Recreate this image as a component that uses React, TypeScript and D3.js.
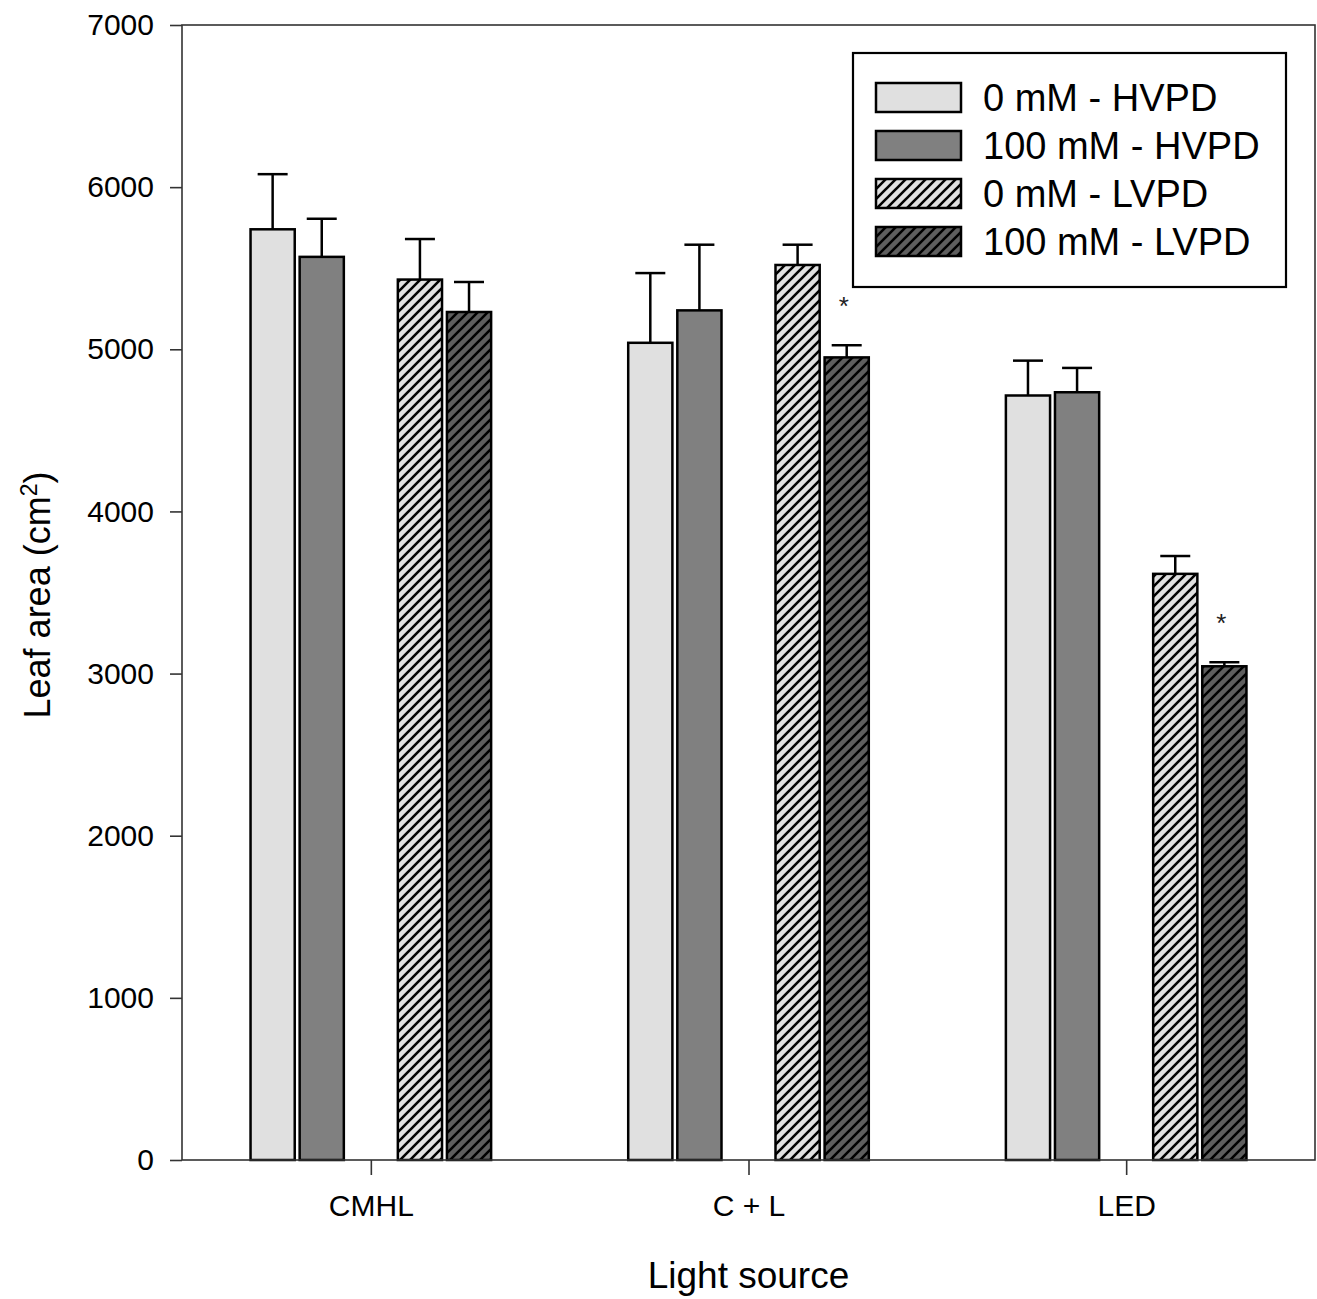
import React, { useEffect, useRef } from 'react';
import * as d3 from 'd3';

// Dimensiones generales
const W = 1317;
const H = 1299;
const margin = { top: 25, right: 2, bottom: 139, left: 182 };
const FONT = "'Liberation Sans', Arial, sans-serif";

// Datos
const lightSources = ['CMHL', 'C + L', 'LED'];
const treatments = ['0 mM - HVPD', '100 mM - HVPD', '0 mM - LVPD', '100 mM - LVPD'];
const hvpd0Mean = [5740, 5040, 4715];
const hvpd0Err = [340, 430, 215];
const hvpd100Mean = [5570, 5240, 4735];
const hvpd100Err = [235, 405, 150];
const lvpd0Mean = [5430, 5520, 3615];
const lvpd0Err = [250, 125, 110];
const lvpd100Mean = [5230, 4950, 3045];
const lvpd100Err = [185, 75, 25];
const lvpd100Signif = [false, true, true];
const yTicks = [0, 1000, 2000, 3000, 4000, 5000, 6000, 7000];

const series = [
  { name: treatments[0], mean: hvpd0Mean, err: hvpd0Err, signif: [false, false, false], fill: '#e0e0e0', offset: -2 },
  { name: treatments[1], mean: hvpd100Mean, err: hvpd100Err, signif: [false, false, false], fill: '#808080', offset: -1 },
  { name: treatments[2], mean: lvpd0Mean, err: lvpd0Err, signif: [false, false, false], fill: 'url(#hatchLight)', offset: 1 },
  { name: treatments[3], mean: lvpd100Mean, err: lvpd100Err, signif: lvpd100Signif, fill: 'url(#hatchDark)', offset: 2 },
];

const App = () => {
  const svgRef = useRef(null);

  useEffect(() => {
    const svg = d3.select(svgRef.current);
    svg.selectAll('*').remove();

    const x = d3.scaleLinear().domain([0.5, 3.5]).range([margin.left, 1315]);
    const y = d3.scaleLinear().domain([0, 7000]).range([H - margin.bottom, margin.top]);
    const barW = 0.117; // ancho en unidades del eje x
    const step = 0.13;

    // Patrones de rayado
    const defs = svg.append('defs');
    const addHatch = (id, bg) => {
      const p = defs.append('pattern')
        .attr('id', id)
        .attr('patternUnits', 'userSpaceOnUse')
        .attr('width', 10)
        .attr('height', 10);
      p.append('rect').attr('width', 10).attr('height', 10).attr('fill', bg);
      p.append('path')
        .attr('d', 'M-2,2 L2,-2 M0,10 L10,0 M8,12 L12,8')
        .attr('stroke', '#000')
        .attr('stroke-width', 2.6);
    };
    addHatch('hatchLight', '#e0e0e0');
    addHatch('hatchDark', '#5e5e5e');

    // Barras, barras de error y asteriscos
    series.forEach(s => {
      const g = svg.append('g');
      lightSources.forEach((ls, i) => {
        const cx = i + 1 + s.offset * step;
        const x0 = x(cx - barW / 2);
        const x1 = x(cx + barW / 2);
        const xc = x(cx);
        const top = y(s.mean[i]);
        const errTop = y(s.mean[i] + s.err[i]);

        g.append('line')
          .attr('x1', xc).attr('x2', xc)
          .attr('y1', top).attr('y2', errTop)
          .attr('stroke', '#000').attr('stroke-width', 2.5);
        g.append('line')
          .attr('x1', xc - 15).attr('x2', xc + 15)
          .attr('y1', errTop).attr('y2', errTop)
          .attr('stroke', '#000').attr('stroke-width', 2.5);

        g.append('rect')
          .attr('x', x0)
          .attr('y', top)
          .attr('width', x1 - x0)
          .attr('height', y(0) - top)
          .attr('fill', s.fill)
          .attr('stroke', '#000')
          .attr('stroke-width', 2.5);

        if (s.signif[i]) {
          g.append('text')
            .attr('x', xc - 3)
            .attr('y', errTop - 30)
            .attr('text-anchor', 'middle')
            .style('font-family', FONT)
            .style('font-size', '26px')
            .style('fill', '#222')
            .text('*');
        }
      });
    });

    // Marco del área de trazado
    svg.append('rect')
      .attr('x', margin.left)
      .attr('y', margin.top)
      .attr('width', 1315 - margin.left)
      .attr('height', y(0) - margin.top)
      .attr('fill', 'none')
      .attr('stroke', '#333')
      .attr('stroke-width', 1.6);

    // Eje Y
    const yAxis = svg.append('g')
      .attr('transform', `translate(${margin.left},0)`)
      .call(d3.axisLeft(y).tickValues(yTicks).tickSize(12).tickPadding(16).tickFormat(d3.format('d')));
    yAxis.select('.domain').remove();
    yAxis.selectAll('line').attr('stroke', '#333').attr('stroke-width', 1.6);
    yAxis.selectAll('text')
      .style('font-family', FONT)
      .style('font-size', '30px')
      .style('fill', '#000');

    // Eje X
    const xAxis = svg.append('g')
      .attr('transform', `translate(0,${y(0)})`)
      .call(d3.axisBottom(x).tickValues([1, 2, 3]).tickSize(15).tickPadding(20)
        .tickFormat((d) => lightSources[d - 1]));
    xAxis.select('.domain').remove();
    xAxis.selectAll('line').attr('stroke', '#333').attr('stroke-width', 1.6);
    xAxis.selectAll('text')
      .style('font-family', FONT)
      .style('font-size', '30px')
      .style('fill', '#000');

    // Títulos de ejes
    svg.append('text')
      .attr('x', (margin.left + 1315) / 2)
      .attr('y', 1288)
      .attr('text-anchor', 'middle')
      .style('font-family', FONT)
      .style('font-size', '37px')
      .text('Light source');

    const yl = svg.append('text')
      .attr('transform', 'translate(50,595) rotate(-90)')
      .attr('text-anchor', 'middle')
      .style('font-family', FONT)
      .style('font-size', '36px');
    yl.append('tspan').text('Leaf area (cm');
    yl.append('tspan').attr('baseline-shift', 'super').style('font-size', '23px').text('2');
    yl.append('tspan').text(')');

    // Leyenda
    const leg = svg.append('g').attr('transform', 'translate(853,53)');
    leg.append('rect')
      .attr('width', 433).attr('height', 234)
      .attr('fill', '#fff').attr('stroke', '#000').attr('stroke-width', 2.2);
    series.forEach((s, i) => {
      const row = leg.append('g').attr('transform', `translate(23,${30 + i * 48})`);
      row.append('rect')
        .attr('width', 85).attr('height', 29)
        .attr('fill', s.fill).attr('stroke', '#000').attr('stroke-width', 2.5);
      row.append('text')
        .attr('x', 107).attr('y', 28)
        .style('font-family', FONT)
        .style('font-size', '38px')
        .text(s.name);
    });
  }, []);

  return (
    <svg ref={svgRef} width={W} height={H}
      style={{ position: 'absolute', left: 0, top: 0, background: '#fff' }} />
  );
};

export default App;
